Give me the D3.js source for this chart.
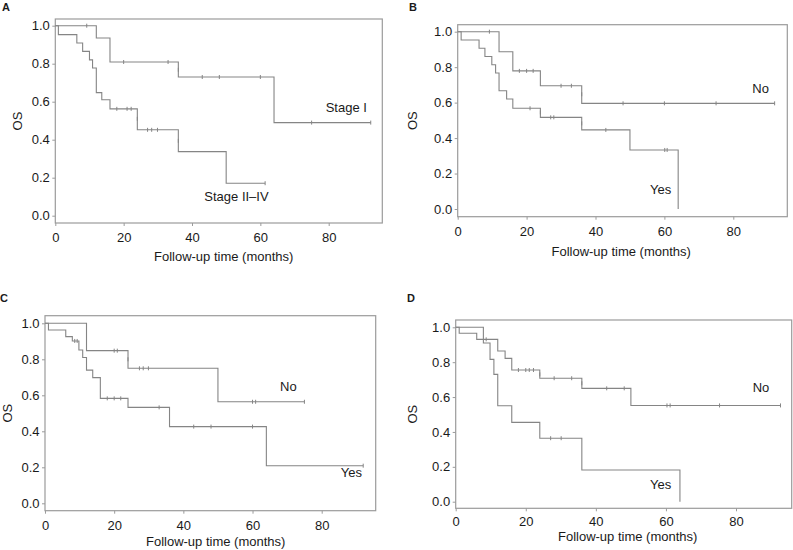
<!DOCTYPE html>
<html><head><meta charset="utf-8">
<script src="https://cdn.jsdelivr.net/npm/d3@7"></script>
<style>
html,body{margin:0;padding:0;background:#fff;}
svg text{font-family:"Liberation Sans",Arial,sans-serif;}
</style></head>
<body>
<svg id="chart" width="793" height="550"></svg>
<script>
// ---- data ----
const xTicks = [0, 20, 40, 60, 80];
const yTicks = [0, 0.2, 0.4, 0.6, 0.8, 1.0];
const xTitle = "Follow-up time (months)";
const yTitle = "OS";

// Panel A
const A_stageI_steps = [[0,1],[12,0.935],[16,0.809],[36,0.73],[64,0.49],[92.3,0.49]];
const A_stageI_cens  = [[9.2,1],[20,0.809],[33,0.809],[36,0.768],[43,0.73],[48,0.73],[60,0.73],[75,0.49],[92.3,0.49]];
const A_stageII_steps = [[0,1],[0.9,0.953],[6.3,0.909],[8,0.865],[10,0.82],[10.9,0.777],[12,0.648],[13.6,0.61],[16,0.5625],[24,0.452],[36,0.337],[50,0.171],[61.4,0.171]];
const A_stageII_cens  = [[18,0.5625],[21,0.5625],[22.2,0.5625],[24,0.51],[27,0.452],[28.2,0.452],[29.9,0.452],[36,0.394],[61.4,0.171]];

// Panel B
const B_no_steps = [[0,1],[12,0.887],[16,0.779],[24,0.695],[36,0.596],[92,0.596]];
const B_no_cens  = [[9.2,1],[17.9,0.779],[20,0.779],[21.9,0.779],[30,0.695],[33,0.695],[36,0.647],[48,0.596],[60,0.596],[75,0.596],[92,0.596]];
const B_yes_steps = [[0,1],[1,0.953],[6.2,0.907],[7.9,0.86],[9.9,0.814],[11,0.767],[12,0.667],[14.2,0.62],[16,0.568],[24,0.517],[36,0.446],[50,0.333],[64,0]];
const B_yes_cens  = [[21,0.568],[24,0.545],[27,0.517],[27.9,0.517],[36,0.483],[43,0.446],[60.1,0.333],[60.8,0.333]];

// Panel C
const C_no_steps = [[0,1],[12,0.848],[24,0.75],[50,0.564],[75,0.564]];
const C_no_cens  = [[20,0.848],[20.9,0.848],[24,0.8],[27.3,0.75],[28.4,0.75],[29.9,0.75],[60,0.564],[60.9,0.564],[75,0.564]];
const C_yes_steps = [[0,1],[1,0.963],[6,0.926],[7.9,0.902],[9.8,0.852],[10.9,0.81],[12,0.74],[13.8,0.698],[16,0.583],[24,0.533],[36,0.426],[64,0.209],[92,0.209]];
const C_yes_cens  = [[8.6,0.902],[9.3,0.902],[18,0.583],[20,0.583],[21.9,0.583],[33,0.533],[36,0.478],[43,0.426],[48,0.426],[60,0.426],[92,0.209]];

// Panel D
const D_no_steps = [[0,1],[1,0.966],[6,0.931],[12,0.864],[14.1,0.822],[16,0.755],[24,0.708],[36,0.65],[50,0.552],[92.7,0.552]];
const D_no_cens  = [[8.7,0.931],[17.9,0.755],[20,0.755],[21,0.755],[22.2,0.755],[24,0.73],[28.1,0.708],[33.1,0.708],[36,0.679],[43.1,0.65],[48.1,0.65],[60.3,0.552],[61.2,0.552],[75.3,0.552],[92.7,0.552]];
const D_yes_steps = [[0,1],[7.9,0.91],[9.8,0.816],[10.9,0.73],[12,0.55],[16,0.455],[24,0.364],[36,0.182],[64,0]];
const D_yes_cens  = [[27.1,0.364],[30.1,0.364]];

const panelLetters = ["A","B","C","D"];
const curveLabels = [
  ["Stage I","Stage II\u2013IV"],
  ["No","Yes"],
  ["No","Yes"],
  ["No","Yes"]
];

// ---- layout ----
const layout = [
  {px0:55.3, px80:328.7, right:382.3, py1:25.7, py0:215.7, top:19, bottom:223,
   letter:[2,10.5], osX:22, xtY:261, xtX:223.7, tickPad:7,
   labels:[[325.7,111.5],[204.3,201]],
   curves:[[A_stageI_steps,A_stageI_cens],[A_stageII_steps,A_stageII_cens]]},
  {px0:457.7, px80:733.3, right:787.3, py1:31.7, py0:209, top:24.7, bottom:216.7,
   letter:[409,10.5], osX:417, xtY:256, xtX:621.2, tickPad:7,
   labels:[[752.3,93.3],[650,194.3]],
   curves:[[B_no_steps,B_no_cens],[B_yes_steps,B_yes_cens]]},
  {px0:45, px80:321.7, right:375.7, py1:323.3, py0:503.3, top:315.7, bottom:510.7,
   letter:[0,302], osX:12, xtY:546, xtX:215.7, tickPad:7.5,
   labels:[[280,390.5],[340.7,477]],
   curves:[[C_no_steps,C_no_cens],[C_yes_steps,C_yes_cens]]},
  {px0:455.7, px80:736, right:791.7, py1:327.3, py0:501.7, top:320, bottom:508.3,
   letter:[407,302], osX:417, xtY:541, xtX:627.7, tickPad:5.5,
   labels:[[752.7,391.5],[650,489]],
   curves:[[D_no_steps,D_no_cens],[D_yes_steps,D_yes_cens]]}
];

const svg = d3.select("#chart");
const frameColor = "#9b9b9b";
const lineColor = "#858585";
const textColor = "#1a1a1a";

layout.forEach((p, i) => {
  const g = svg.append("g");
  const x = d3.scaleLinear().domain([0, 80]).range([p.px0, p.px80]);
  const y = d3.scaleLinear().domain([0, 1]).range([p.py0, p.py1]);

  // frame
  g.append("rect")
    .attr("x", p.px0).attr("y", p.top)
    .attr("width", p.right - p.px0).attr("height", p.bottom - p.top)
    .attr("fill", "none").attr("stroke", frameColor).attr("stroke-width", 1.2);

  // y axis
  const ya = g.append("g").attr("transform", `translate(${p.px0},0)`)
    .call(d3.axisLeft(y).tickValues(yTicks).tickFormat(d3.format(".1f")).tickSize(3).tickPadding(2.5));
  ya.select(".domain").remove();
  ya.selectAll("line").attr("stroke", frameColor);
  ya.selectAll("text").attr("font-size", 13).attr("fill", textColor)
    .attr("font-family", '"Liberation Sans",Arial,sans-serif');

  // x axis
  const xa = g.append("g").attr("transform", `translate(0,${p.bottom})`)
    .call(d3.axisBottom(x).tickValues(xTicks).tickFormat(d3.format("d")).tickSize(3).tickPadding(p.tickPad));
  xa.select(".domain").remove();
  xa.selectAll("line").attr("stroke", frameColor);
  xa.selectAll("text").attr("font-size", 13).attr("fill", textColor)
    .attr("font-family", '"Liberation Sans",Arial,sans-serif');

  // curves
  const line = d3.line().x(d => x(d[0])).y(d => y(d[1])).curve(d3.curveStepAfter);
  p.curves.forEach(([steps, cens]) => {
    g.append("path").attr("d", line(steps))
      .attr("fill", "none").attr("stroke", lineColor).attr("stroke-width", 1.1);
    g.selectAll(null).data(cens).enter().append("line")
      .attr("x1", d => x(d[0])).attr("x2", d => x(d[0]))
      .attr("y1", d => y(d[1]) - 2).attr("y2", d => y(d[1]) + 2)
      .attr("stroke", lineColor).attr("stroke-width", 1);
  });

  // curve labels
  p.labels.forEach((pos, k) => {
    g.append("text").attr("x", pos[0]).attr("y", pos[1])
      .attr("font-size", 13).attr("fill", textColor).text(curveLabels[i][k]);
  });

  // panel letter
  g.append("text").attr("x", p.letter[0]).attr("y", p.letter[1])
    .attr("font-size", 11).attr("font-weight", "bold").attr("fill", textColor)
    .text(panelLetters[i]);

  // axis titles
  g.append("text")
    .attr("transform", `translate(${p.osX},${(p.top + p.bottom) / 2}) rotate(-90)`)
    .attr("text-anchor", "middle").attr("font-size", 13).attr("fill", textColor)
    .text(yTitle);
  g.append("text").attr("x", p.xtX).attr("y", p.xtY)
    .attr("text-anchor", "middle").attr("font-size", 13).attr("fill", textColor)
    .text(xTitle);
});
</script>
</body></html>
